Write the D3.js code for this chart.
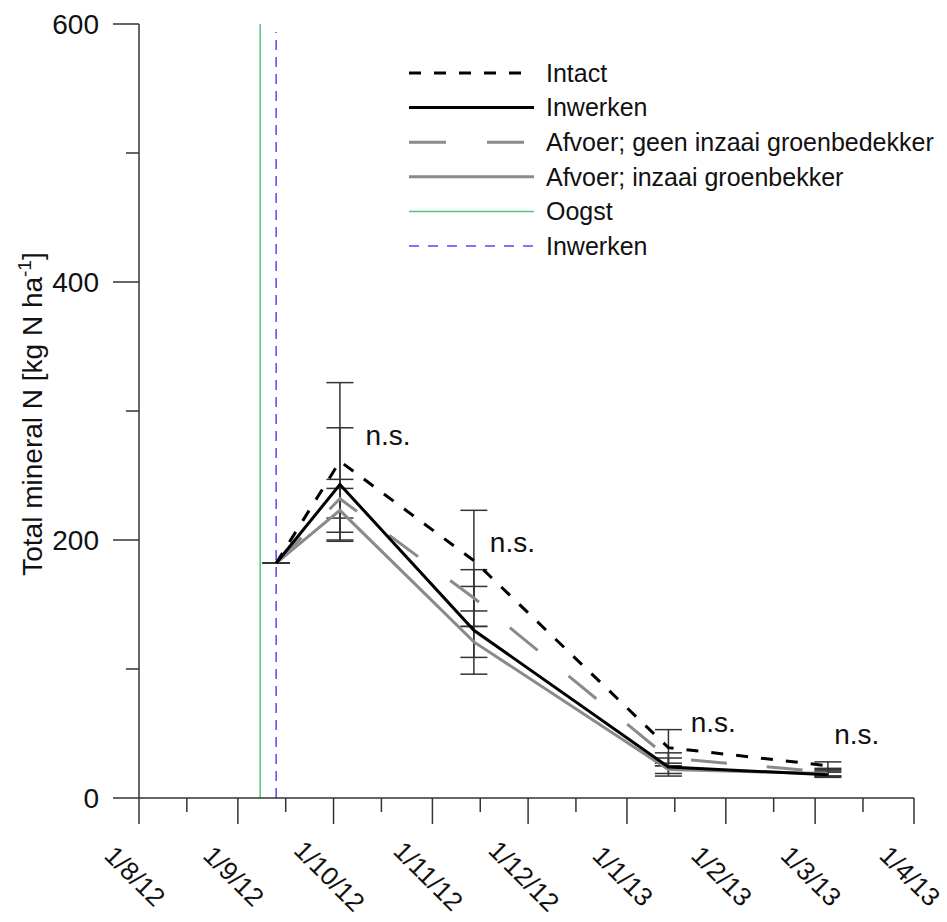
<!DOCTYPE html>
<html>
<head>
<meta charset="utf-8">
<script src="https://cdn.jsdelivr.net/npm/d3@7"></script>
<style>
  html, body { margin: 0; padding: 0; background: #fff; }
  svg { display: block; font-family: "Liberation Sans", Arial, sans-serif; }
</style>
</head>
<body>
<svg id="chart" width="947" height="922"></svg>
<script>
// Sampling dates and mean total mineral N per treatment
const sampleDates = ["2012-09-13", "2012-10-03", "2012-11-14", "2013-01-14", "2013-03-05"];
const intact      = [182, 261, 184, 39, 25];
const inwerken    = [182, 243, 130, 24, 18];
const afvoerGeen  = [182, 232, 155, 31, 20];
const afvoerInzaai= [182, 223, 121, 22, 19];

// Standard deviations per treatment
const intactSd       = [0, 61, 39, 14, 3];
const inwerkenSd     = [0, 44, 34, 7, 2];
const afvoerGeenSd   = [0, 15, 22, 4, 3];
const afvoerInzaaiSd = [0, 17, 12, 3, 2];

// Field operations
const oogstDate = "2012-09-08";
const inwerkenDate = "2012-09-13";

// Significance annotations (anchored in data units)
const nsDates  = ["2012-10-11", "2012-11-19", "2013-01-21", "2013-03-07"];
const nsLevels = [274, 191, 51, 42];
const nsText = "n.s.";

// Axis ticks
const yMajorTicks = [0, 200, 400, 600];
const yMinorTicks = [100, 300, 500];
const xMajorTicks = ["2012-08-01","2012-09-01","2012-10-01","2012-11-01","2012-12-01",
                     "2013-01-01","2013-02-01","2013-03-01","2013-04-01"];
const xMinorTicks = ["2012-08-16","2012-09-16","2012-10-16","2012-11-16","2012-12-16",
                     "2013-01-16","2013-02-16","2013-03-16"];
const xTickLabels = ["1/8/12","1/9/12","1/10/12","1/11/12","1/12/12","1/1/13","1/2/13","1/3/13","1/4/13"];

const seriesNames = ["Intact", "Inwerken", "Afvoer; geen inzaai groenbedekker", "Afvoer; inzaai groenbekker"];
const markerNames = ["Oogst", "Inwerken"];

const parse = d3.utcParse("%Y-%m-%d");
const svg = d3.select("#chart");

const x = d3.scaleUtc()
  .domain([parse("2012-08-01"), parse("2013-04-01")])
  .range([139, 914]);
const y = d3.scaleLinear().domain([0, 600]).range([798, 24]);

const axisColor = "#333";

// Series styles
const series = [
  { name: seriesNames[3], values: afvoerInzaai, sd: afvoerInzaaiSd, color: "#8a8a8a", dash: null },
  { name: seriesNames[2], values: afvoerGeen,   sd: afvoerGeenSd,   color: "#8a8a8a", dash: "36,40" },
  { name: seriesNames[1], values: inwerken,     sd: inwerkenSd,     color: "#000",    dash: null },
  { name: seriesNames[0], values: intact,       sd: intactSd,       color: "#000",    dash: "12,13" }
];

// Vertical event lines
svg.append("line")
  .attr("x1", x(parse(oogstDate))).attr("x2", x(parse(oogstDate)))
  .attr("y1", y(600)).attr("y2", y(0))
  .attr("stroke", "#55c47f").attr("stroke-width", 1.5);
svg.append("line")
  .attr("x1", x(parse(inwerkenDate))).attr("x2", x(parse(inwerkenDate)))
  .attr("y1", y(0)).attr("y2", y(600) + 8)
  .attr("stroke", "#4a4aff").attr("stroke-width", 1.5)
  .attr("stroke-dasharray", "10,7");

// Y axis
const gy = svg.append("g");
gy.append("line").attr("x1", 139).attr("x2", 139).attr("y1", y(600)).attr("y2", y(0))
  .attr("stroke", axisColor).attr("stroke-width", 1.5);
gy.selectAll(".ymaj").data(yMajorTicks).join("line")
  .attr("x1", 113).attr("x2", 139).attr("y1", d => y(d)).attr("y2", d => y(d))
  .attr("stroke", axisColor).attr("stroke-width", 1.5);
gy.selectAll(".ymin").data(yMinorTicks).join("line")
  .attr("class", "ymin")
  .attr("x1", 126).attr("x2", 139).attr("y1", d => y(d)).attr("y2", d => y(d))
  .attr("stroke", axisColor).attr("stroke-width", 1.5);
gy.selectAll("text").data(yMajorTicks).join("text")
  .attr("x", 99).attr("y", d => y(d)).attr("dy", "0.35em")
  .attr("text-anchor", "end").attr("font-size", 28).attr("fill", "#111")
  .text(d => d);

// Y axis title
const yt = svg.append("text")
  .attr("transform", "translate(42,414) rotate(-90)")
  .attr("text-anchor", "middle").attr("font-size", 28).attr("fill", "#111");
yt.append("tspan").text("Total mineral N [kg N ha");
yt.append("tspan").attr("font-size", 19).attr("dy", -11).text("-1");
yt.append("tspan").attr("dy", 11).text("]");

// X axis
const gx = svg.append("g");
gx.append("line").attr("x1", 139).attr("x2", 914).attr("y1", 798).attr("y2", 798)
  .attr("stroke", axisColor).attr("stroke-width", 1.5);
gx.selectAll(".xmaj").data(xMajorTicks).join("line")
  .attr("class", "xmaj")
  .attr("x1", d => x(parse(d))).attr("x2", d => x(parse(d)))
  .attr("y1", 798).attr("y2", 824)
  .attr("stroke", axisColor).attr("stroke-width", 1.5);
gx.selectAll(".xmin").data(xMinorTicks).join("line")
  .attr("class", "xmin")
  .attr("x1", d => x(parse(d))).attr("x2", d => x(parse(d)))
  .attr("y1", 798).attr("y2", 812)
  .attr("stroke", axisColor).attr("stroke-width", 1.5);
gx.selectAll("text").data(xMajorTicks).join("text")
  .attr("transform", d => `translate(${x(parse(d)) - 4},876) rotate(45)`)
  .attr("text-anchor", "middle").attr("dy", "0.35em")
  .attr("font-size", 26).attr("fill", "#111")
  .text((d, i) => xTickLabels[i]);

// Error bars
const capHalf = 13.5;
const gErr = svg.append("g").attr("stroke", "#333").attr("stroke-width", 1.5);
series.forEach(s => {
  s.values.forEach((v, i) => {
    const cx = x(parse(sampleDates[i]));
    const lo = y(v - s.sd[i]), hi = y(v + s.sd[i]);
    gErr.append("line").attr("x1", cx).attr("x2", cx).attr("y1", lo).attr("y2", hi);
    gErr.append("line").attr("x1", cx - capHalf).attr("x2", cx + capHalf).attr("y1", lo).attr("y2", lo);
    gErr.append("line").attr("x1", cx - capHalf).attr("x2", cx + capHalf).attr("y1", hi).attr("y2", hi);
  });
});

// Series lines
const line = d3.line()
  .x((d, i) => x(parse(sampleDates[i])))
  .y(d => y(d));
series.forEach(s => {
  svg.append("path")
    .attr("d", line(s.values))
    .attr("fill", "none")
    .attr("stroke", s.color)
    .attr("stroke-width", 3)
    .attr("stroke-dasharray", s.dash)
    .attr("stroke-linejoin", "miter");
});

// n.s. annotations
svg.selectAll(".ns").data(nsDates).join("text")
  .attr("class", "ns")
  .attr("x", d => x(parse(d)))
  .attr("y", (d, i) => y(nsLevels[i]))
  .attr("font-size", 28).attr("fill", "#111")
  .text(nsText);

// Legend
const legendItems = [
  { label: seriesNames[0], color: "#000", dash: "12,13", width: 3 },
  { label: seriesNames[1], color: "#000", dash: null, width: 3 },
  { label: seriesNames[2], color: "#8a8a8a", dash: "37,41", width: 3 },
  { label: seriesNames[3], color: "#8a8a8a", dash: null, width: 3 },
  { label: markerNames[0], color: "#55c47f", dash: null, width: 1.5 },
  { label: markerNames[1], color: "#4a4aff", dash: "10,9", width: 1.5 }
];
const lg = svg.append("g").attr("transform", "translate(409,73)");
legendItems.forEach((it, i) => {
  const row = lg.append("g").attr("transform", `translate(0,${i * 34.6})`);
  row.append("line").attr("x1", 0).attr("x2", 125).attr("y1", 0).attr("y2", 0)
    .attr("stroke", it.color).attr("stroke-width", it.width)
    .attr("stroke-dasharray", it.dash);
  row.append("text").attr("x", 137).attr("y", 0).attr("dy", "0.35em")
    .attr("font-size", 25).attr("fill", "#111").text(it.label);
});
</script>
</body>
</html>
